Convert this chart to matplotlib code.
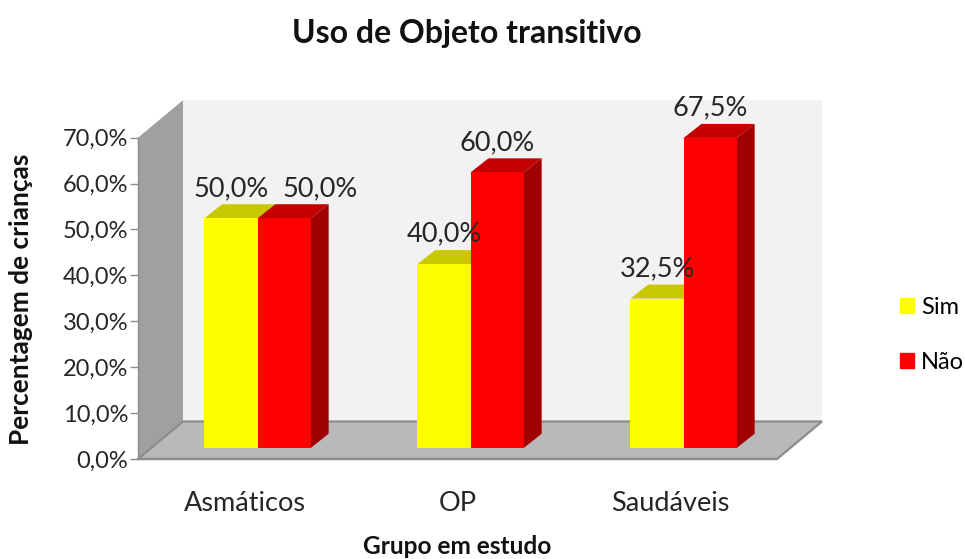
import matplotlib
matplotlib.use("Agg")
import matplotlib.pyplot as plt
from matplotlib.patches import Polygon, Patch

plt.rcParams['font.family'] = ['Lato', 'DejaVu Sans']

categories = ["Asmáticos", "OP", "Saudáveis"]
series_names = ["Sim", "Não"]
sim_values = [50.0, 40.0, 32.5]
nao_values = [50.0, 60.0, 67.5]
y_ticks = [0, 10, 20, 30, 40, 50, 60, 70]
y_labels = ["0,0%", "10,0%", "20,0%", "30,0%", "40,0%", "50,0%", "60,0%", "70,0%"]
title = "Uso de Objeto transitivo"
xlabel = "Grupo em estudo"
ylabel = "Percentagem de crianças"

W, H = 965, 559
L, R, T, B = 138, 777, 137.7, 459
fig = plt.figure(figsize=(W / 100, H / 100), dpi=100)
ax = fig.add_axes([L / W, 1 - B / H, (R - L) / W, (B - T) / H])
ax.set_xlim(0, 3)
ax.set_ylim(0, 70)
ax.patch.set_visible(False)
px_x = (R - L) / 3
px_y = (B - T) / 70
DX, DY = 45, 37.5
BAR_OX, BAR_OY = 13.2, 11.25
BAR_DX, BAR_DY = 17.7, 14

ox = DX / px_x
oy = DY / px_y
gray_edge = "#8c8c8c"

def poly(pts, color, z, edge=None, lw=0):
    p = Polygon(pts, closed=True, facecolor=color, edgecolor=edge or color, linewidth=lw,
                zorder=z, clip_on=False)
    ax.add_patch(p)

# walls and floor
poly([(ox, oy), (3 + ox, oy), (3 + ox, 70 + oy), (ox, 70 + oy)], "#f2f2f2", 1)
poly([(0, 0), (ox, oy), (ox, 70 + oy), (0, 70)], "#a0a0a0", 2)
poly([(0, 0), (3, 0), (3 + ox, oy), (ox, oy)], "#b9b9b9", 2, gray_edge, 1.6)

bx = BAR_OX / px_x
by = BAR_OY / px_y
ddx = BAR_DX / px_x
ddy = BAR_DY / px_y
width = 0.25
colors = [("#ffff00", "#c8c800", "#a8a800"), ("#ff0000", "#c40000", "#a00000")]

for s, vals in enumerate([sim_values, nao_values]):
    front, top, side = colors[s]
    xs = [i + 0.25 + s * width + bx for i in range(3)]
    ax.bar(xs, vals, width=width, bottom=by, align="edge", color=front, zorder=4 + s, clip_on=False)
    for x0, v in zip(xs, vals):
        y1 = v + by
        poly([(x0, y1), (x0 + width, y1), (x0 + width + ddx, y1 + ddy), (x0 + ddx, y1 + ddy)], top, 3 + s)
        poly([(x0 + width, by), (x0 + width + ddx, by + ddy), (x0 + width + ddx, y1 + ddy), (x0 + width, y1)], side, 3 + s)

# data labels
shifts = [[0, 0, 0], [26, 0, 0]]
for s, vals in enumerate([sim_values, nao_values]):
    for i, v in enumerate(vals):
        x0 = i + 0.25 + s * width + bx + width / 2
        ax.annotate(f"{v:.1f}%".replace(".", ","), (x0, v + by), xytext=(shifts[s][i], 21.5),
                    textcoords="offset points", ha="center", va="center",
                    fontsize=19.5, color="#262626", zorder=10, annotation_clip=False)

for sp in ("top", "right"):
    ax.spines[sp].set_visible(False)
ax.spines["left"].set_color(gray_edge)
ax.spines["left"].set_linewidth(1.0)
ax.spines["bottom"].set_color(gray_edge)
ax.spines["bottom"].set_linewidth(1.6)
ax.spines["bottom"].set_zorder(3)
ax.set_yticks(y_ticks, y_labels)
ax.tick_params(axis="y", length=6, width=1, color=gray_edge, labelsize=17, labelcolor="#262626", pad=1)
ax.set_xticks([i + 0.5 for i in range(3)], categories)
ax.tick_params(axis="x", length=0, labelsize=19.5, labelcolor="#262626", pad=23)

fig.text(467 / W, 1 - 33 / H, title, ha="center", va="center", fontsize=23, fontweight="bold", color="#111111")
fig.text(457 / W, 1 - 547 / H, xlabel, ha="center", va="center", fontsize=17.6, fontweight="bold", color="#111111")
fig.text(21 / W, 1 - 299 / H, ylabel, ha="center", va="center", rotation=90, fontsize=18.9, fontweight="bold", color="#111111")

handles = [Patch(color=c[0], label=n) for c, n in zip(colors, series_names)]
fig.legend(handles=handles, loc="center left", bbox_to_anchor=(900 / W, 1 - 335 / H), frameon=False,
           fontsize=17, handlelength=0.6, handleheight=0.6, handletextpad=0.3, labelspacing=1.45,
           borderpad=0, borderaxespad=0)

fig.savefig("out.png", dpi=100)
